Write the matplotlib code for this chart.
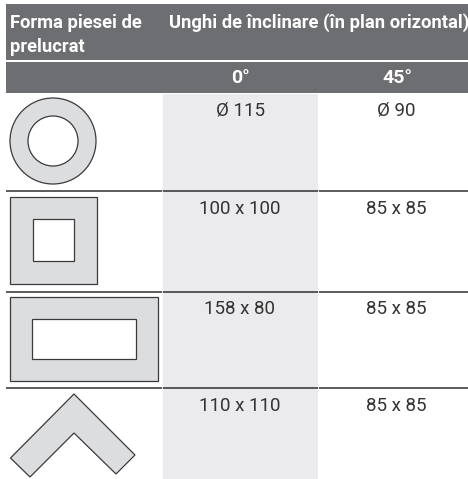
import matplotlib
matplotlib.use("Agg")
import matplotlib.pyplot as plt
from matplotlib.patches import Rectangle, Circle, Polygon

header_left = "Forma piesei de\nprelucrat"
header_right = "Unghi de înclinare (în plan orizontal)"
angles = ["0°", "45°"]
col_0 = ["Ø 115", "100 x 100", "158 x 80", "110 x 110"]
col_45 = ["Ø 90", "85 x 85", "85 x 85", "85 x 85"]
row_text_y = [110, 209, 309, 406]
row_lines_y = [190.5, 292, 387.5]

DARK = "#6d6e71"
SHADE = "#ebebed"
SHAPE = "#dcdddf"
EDGE = "#3a3a3c"
TXT = "#333333"
HEAD = ["Roboto", "DejaVu Sans"]
BODY = ["Roboto", "DejaVu Sans"]

fig = plt.figure(figsize=(4.68, 4.79), dpi=100)
ax = fig.add_axes([0, 0, 1, 1])
ax.set_xlim(0, 468)
ax.set_ylim(479, 0)
ax.axis("off")

ax.add_patch(Rectangle((6, 4), 462, 56, fc=DARK, ec="none"))
ax.add_patch(Rectangle((6, 62), 462, 31, fc=DARK, ec="none"))
ax.add_patch(Rectangle((162, 94), 156, 385, fc=SHADE, ec="none"))
for y in row_lines_y:
    ax.plot([6, 468], [y, y], color="#2f2f31", lw=1.1, solid_capstyle="butt")
for x in (162, 318):
    ax.plot([x, x], [94, 479], color="white", lw=0.6)

ax.text(10, 23, header_left.split("\n")[0], color="white", family=HEAD, weight="bold", fontsize=13.2, va="center")
ax.text(10, 47, header_left.split("\n")[1], color="white", family=HEAD, weight="bold", fontsize=13.2, va="center")
ax.text(169, 23, header_right, color="white", family=HEAD, weight="bold", fontsize=13.2, va="center")
ax.text(240, 78, angles[0], color="white", family=HEAD, weight="bold", fontsize=14, ha="center", va="center")
ax.text(397, 78, angles[1], color="white", family=HEAD, weight="bold", fontsize=14, ha="center", va="center")

for t0, t45, y in zip(col_0, col_45, row_text_y):
    ax.text(240, y, t0, color=TXT, family=BODY, fontsize=13.5, ha="center", va="center")
    ax.text(396, y, t45, color=TXT, family=BODY, fontsize=13.5, ha="center", va="center")

lw = 0.9
ax.add_patch(Circle((53, 141), 43, fc=SHAPE, ec=EDGE, lw=lw))
ax.add_patch(Circle((53, 141), 25, fc="white", ec=EDGE, lw=lw))
ax.add_patch(Rectangle((10, 197), 86.5, 86.5, fc=SHAPE, ec=EDGE, lw=lw))
ax.add_patch(Rectangle((32.5, 219), 41.5, 41.5, fc="white", ec=EDGE, lw=lw))
ax.add_patch(Rectangle((10, 296.5), 148, 84.5, fc=SHAPE, ec=EDGE, lw=lw))
ax.add_patch(Rectangle((32, 318.5), 104, 40, fc="white", ec=EDGE, lw=lw))
ax.add_patch(Polygon([(74, 394), (135, 455), (116, 474), (74, 433), (30, 477), (10.5, 458)], closed=True, fc=SHAPE, ec=EDGE, lw=lw))

fig.savefig("out.png", dpi=100)
